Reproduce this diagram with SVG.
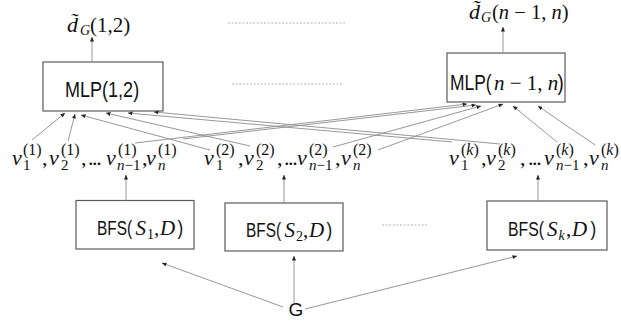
<svg xmlns="http://www.w3.org/2000/svg" width="621" height="322" viewBox="0 0 621 322">
  <defs>
    <marker id="ah" markerWidth="5" markerHeight="4" refX="4.5" refY="2" orient="auto" markerUnits="userSpaceOnUse">
      <path d="M0,0 L4.6,2 L0,4 z" fill="#222"/>
    </marker>
  </defs>
  <style>
    .box { fill: #ffffff; stroke: #5a5a5a; stroke-width: 1.2; }
    .sans { font-family: "Liberation Sans", Arial, sans-serif; font-style: normal; fill: #111; }
    .mi { font-family: "Liberation Serif", "Times New Roman", serif; font-style: italic; fill: #111; }
    .up { font-style: normal; }
    .sup { font-size: 16px; }
    .sub { font-size: 15px; }
    .dots { letter-spacing: -1.4px; font-style: normal; }
    .conn line { stroke: #8c8c8c; stroke-width: 0.9; marker-end: url(#ah); }
    .gap line { stroke: #b4b4b4; stroke-width: 1; stroke-dasharray: 2 1.6; }
  </style>

  <rect width="621" height="322" fill="#ffffff"/>

  <!-- outputs -->
  <g id="out-12">
    <text class="mi" x="67" y="32" font-size="22">d&#x303;</text>
    <text class="mi" x="80" y="35" font-size="14">G</text>
    <text class="mi up" x="90" y="32" font-size="21">(1,2)</text>
  </g>
  <g id="out-n">
    <text class="mi" x="469" y="19" font-size="22">d&#x303;</text>
    <text class="mi" x="481" y="22" font-size="14">G</text>
    <text class="mi up" x="492" y="19" font-size="20.5">(<tspan font-style="italic">n</tspan> − 1, <tspan font-style="italic">n</tspan>)</text>
  </g>

  <!-- MLP heads (sans labels are set slightly condensed) -->
  <g id="mlp-12">
    <rect class="box" x="43" y="62" width="120" height="49"/>
    <text class="sans" transform="translate(65,97) scale(0.82,1)" font-size="22">MLP(1,2)</text>
  </g>
  <g id="mlp-n">
    <rect class="box" x="447" y="53" width="118" height="49"/>
    <text class="sans" transform="translate(450,90) scale(0.79,1)" font-size="22">MLP(</text>
    <text class="mi up" x="494" y="90" font-size="21"><tspan font-style="italic">n</tspan> − 1, <tspan font-style="italic">n</tspan></text>
    <text class="sans" transform="translate(557.5,90) scale(0.85,1)" font-size="22">)</text>
  </g>

  <!-- BFS embeddings, run 1 -->
  <g id="emb-1" class="mi" font-size="22">
    <text x="12" y="165">v</text>
    <text class="up sup" x="23" y="155">(1)</text>
    <text class="up sub" x="23" y="170">1</text>
    <text class="up" x="42" y="165">,</text>
    <text x="49" y="165">v</text>
    <text class="up sup" x="61" y="155">(1)</text>
    <text class="up sub" x="61" y="170">2</text>
    <text class="up" x="81" y="165">,</text>
    <text class="dots" x="88" y="165">...</text>
    <text x="106" y="165">v</text>
    <text class="up sup" x="118" y="155">(1)</text>
    <text class="sub" x="117" y="170">n<tspan font-style="normal">−1</tspan></text>
    <text class="up" x="142" y="165">,</text>
    <text x="146" y="165">v</text>
    <text class="up sup" x="158" y="155">(1)</text>
    <text class="sub" x="158" y="170">n</text>
  </g>

  <!-- BFS embeddings, run 2 -->
  <g id="emb-2" class="mi" font-size="22">
    <text x="204" y="165">v</text>
    <text class="up sup" x="216" y="155">(2)</text>
    <text class="up sub" x="216" y="170">1</text>
    <text class="up" x="238" y="165">,</text>
    <text x="244" y="165">v</text>
    <text class="up sup" x="256" y="155">(2)</text>
    <text class="up sub" x="256" y="170">2</text>
    <text class="up" x="277" y="165">,</text>
    <text class="dots" x="284" y="165">...</text>
    <text x="297" y="165">v</text>
    <text class="up sup" x="309" y="155">(2)</text>
    <text class="sub" x="309" y="170">n<tspan font-style="normal">−1</tspan></text>
    <text class="up" x="335" y="165">,</text>
    <text x="341" y="165">v</text>
    <text class="up sup" x="353" y="155">(2)</text>
    <text class="sub" x="353" y="170">n</text>
  </g>

  <!-- BFS embeddings, run k -->
  <g id="emb-k" class="mi" font-size="22">
    <text x="449" y="165">v</text>
    <text class="up sup" x="461" y="155">(<tspan font-style="italic">k</tspan>)</text>
    <text class="up sub" x="461" y="170">1</text>
    <text class="up" x="481" y="165">,</text>
    <text x="486" y="165">v</text>
    <text class="up sup" x="498" y="155">(<tspan font-style="italic">k</tspan>)</text>
    <text class="up sub" x="498" y="170">2</text>
    <text class="up" x="520" y="165">,</text>
    <text class="dots" x="528" y="165">...</text>
    <text x="544" y="165">v</text>
    <text class="up sup" x="556" y="155">(<tspan font-style="italic">k</tspan>)</text>
    <text class="sub" x="556" y="170">n<tspan font-style="normal">−1</tspan></text>
    <text class="up" x="583" y="165">,</text>
    <text x="589" y="165">v</text>
    <text class="up sup" x="601" y="155">(<tspan font-style="italic">k</tspan>)</text>
    <text class="sub" x="601" y="170">n</text>
  </g>

  <!-- BFS runners -->
  <g id="bfs-1">
    <rect class="box" x="76" y="200.5" width="118" height="48.5"/>
    <text class="sans" transform="translate(97,235) scale(0.77,1)" font-size="20">BFS(</text>
    <text class="mi" x="135.5" y="235" font-size="21">S</text>
    <text class="mi up" x="147" y="239" font-size="14">1</text>
    <text class="mi up" x="154" y="235" font-size="21">,</text>
    <text class="mi" x="160" y="235" font-size="21">D</text>
    <text class="sans" transform="translate(177.5,235) scale(0.85,1)" font-size="20">)</text>
  </g>
  <g id="bfs-2">
    <rect class="box" x="225" y="203" width="118" height="48"/>
    <text class="sans" transform="translate(246,237) scale(0.77,1)" font-size="20">BFS(</text>
    <text class="mi" x="284.5" y="237" font-size="21">S</text>
    <text class="mi up" x="296" y="241" font-size="14">2</text>
    <text class="mi up" x="303" y="237" font-size="21">,</text>
    <text class="mi" x="309" y="237" font-size="21">D</text>
    <text class="sans" transform="translate(326.5,237) scale(0.85,1)" font-size="20">)</text>
  </g>
  <g id="bfs-k">
    <rect class="box" x="487" y="201" width="120" height="49"/>
    <text class="sans" transform="translate(508,235.5) scale(0.79,1)" font-size="20">BFS(</text>
    <text class="mi" x="547" y="235.5" font-size="21">S</text>
    <text class="mi" x="558.5" y="239.5" font-size="14">k</text>
    <text class="mi up" x="566" y="235.5" font-size="21">,</text>
    <text class="mi" x="572" y="235.5" font-size="21">D</text>
    <text class="sans" transform="translate(590.5,235.5) scale(0.85,1)" font-size="20">)</text>
  </g>

  <!-- input graph -->
  <g id="graph-G">
    <text class="sans" x="296" y="316" font-size="19" text-anchor="middle">G</text>
  </g>

  <!-- "and so on" gaps between repeated parts -->
  <g class="gap">
    <line x1="228" y1="23" x2="345" y2="23"/>
    <line x1="232" y1="84" x2="343" y2="84"/>
    <line x1="382" y1="225" x2="427" y2="225"/>
  </g>

  <g class="conn" id="connectors">
    <!-- into MLP(1,2) -->
    <line x1="32" y1="140" x2="65" y2="113"/>
    <line x1="68" y1="141" x2="75" y2="114"/>
    <line x1="210" y1="150" x2="81" y2="115"/>
    <line x1="250" y1="146" x2="106" y2="113"/>
    <line x1="452" y1="142" x2="128" y2="113"/>
    <line x1="500" y1="144" x2="154" y2="112"/>
    <!-- into MLP(n-1,n) -->
    <line x1="135" y1="143" x2="467" y2="104"/>
    <line x1="183" y1="139" x2="476" y2="105"/>
    <line x1="333" y1="147" x2="481" y2="106"/>
    <line x1="378" y1="150" x2="503" y2="104"/>
    <line x1="557" y1="142" x2="513" y2="106"/>
    <line x1="595" y1="145" x2="538" y2="106"/>
    <!-- heads to outputs -->
    <line x1="92" y1="62" x2="92" y2="37"/>
    <line x1="503" y1="53" x2="503" y2="27"/>
    <!-- BFS runs to embeddings -->
    <line x1="126" y1="200.5" x2="126" y2="175"/>
    <line x1="284" y1="203" x2="284" y2="175"/>
    <line x1="538" y1="201" x2="538" y2="175"/>
    <!-- graph to BFS runs -->
    <line x1="283" y1="307" x2="162" y2="263"/>
    <line x1="294" y1="303" x2="294" y2="256"/>
    <line x1="305" y1="309" x2="517" y2="256"/>
  </g>
</svg>
